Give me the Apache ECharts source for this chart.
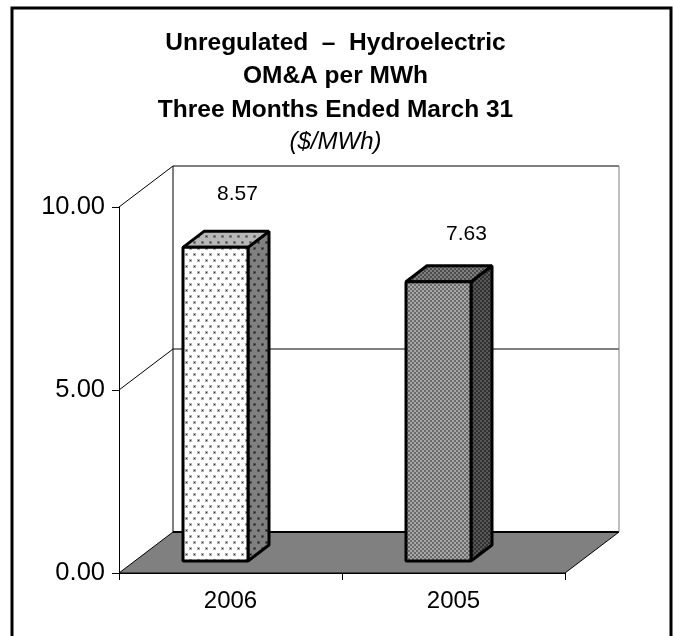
<!DOCTYPE html>
<html><head><meta charset="utf-8">
<style>html,body{margin:0;padding:0;background:#fff}#c{width:673px;height:636px}</style>
<script src="https://cdn.jsdelivr.net/npm/echarts@6/dist/echarts.min.js"></script>
</head><body><div id="c"></div>
<script>
const categories = ['2006', '2005'];
const values = [8.57, 7.63];
const wallTicks = [0, 5, 10];
const titleLines = 'Unregulated  \u2013  Hydroelectric\nOM&A per MWh\nThree Months Ended March 31';
const subtitle = '($/MWh)';

function tile(w, h, draw) {
  const c = document.createElement('canvas');
  c.width = w; c.height = h;
  draw(c.getContext('2d'));
  return { image: c, repeat: 'repeat' };
}
function dots(bg, halo, dot) {
  return tile(8, 12, g => {
    g.fillStyle = bg; g.fillRect(0, 0, 8, 12);
    [[1, 1], [5, 7]].forEach(([x, y]) => {
      g.fillStyle = halo; g.fillRect(x, y, 3, 3);
      g.fillStyle = dot; g.fillRect(x + 1, y + 1, 1, 1);
    });
  });
}
function check(a, b) {
  return tile(4, 4, g => {
    g.fillStyle = a; g.fillRect(0, 0, 4, 4);
    g.fillStyle = b;
    g.fillRect(0, 0, 2, 2); g.fillRect(2, 2, 2, 2);
  });
}
const faces = [
  { front: dots('#ffffff', '#b0b0b0', '#303030'), top: dots('#b8b8b8', '#808080', '#303030'), side: dots('#808080', '#555555', '#101010') },
  { front: check('#6a6a6a', '#a8a8a8'), top: check('#4c4c4c', '#808080'), side: check('#303030', '#585858') }
];
const DX = 54, DY = 41;
const ink = { stroke: '#000', fill: null, lineWidth: 1 };
const FONT = '"Liberation Sans", Arial, sans-serif';

const option = {
  animation: false,
  backgroundColor: '#fff',
  textStyle: { fontFamily: FONT },
  title: {
    text: titleLines, subtext: subtitle,
    left: 330.5, top: 21.25, textAlign: 'center', itemGap: 0,
    textStyle: { fontSize: 24.5, fontWeight: 'bold', color: '#000', lineHeight: 33.5, fontFamily: FONT },
    subtextStyle: { fontSize: 24, fontStyle: 'italic', color: '#000', lineHeight: 32, fontFamily: FONT }
  },
  grid: { left: 119, top: 207, width: 446, height: 366 },
  xAxis: {
    type: 'category', data: categories,
    axisLine: { show: true, lineStyle: { color: '#000', width: 1 } },
    axisTick: { show: true, length: 7, alignWithLabel: false, lineStyle: { color: '#000' } },
    axisLabel: { fontSize: 24, color: '#000', margin: 16, fontFamily: FONT }
  },
  yAxis: {
    type: 'value', min: 0, max: 10, interval: 5,
    splitLine: { show: false },
    axisLine: { show: true, lineStyle: { color: '#000', width: 1 } },
    axisTick: { show: true, length: 7, lineStyle: { color: '#000' } },
    axisLabel: { fontSize: 25.5, color: '#000', margin: 14, padding: [4, 0, 0, 0], formatter: v => v.toFixed(2), fontFamily: FONT }
  },
  graphic: [{
    type: 'rect', silent: true, z: 0,
    shape: { x: 12, y: 8, width: 659, height: 660 },
    style: { fill: null, stroke: '#000', lineWidth: 3 }
  }],
  series: [
    {
      type: 'custom', coordinateSystem: 'cartesian2d', silent: true, clip: false, z: 1,
      data: wallTicks.map(v => [0, v]),
      renderItem(params, api) {
        const cs = params.coordSys;
        const v = api.value(1);
        const y = api.coord([0, v])[1];
        const x0 = cs.x, x1 = cs.x + cs.width;
        const kids = [];
        if (v === 0) {
          kids.push({ type: 'polygon', shape: { points: [[x0, y], [x1, y], [x1 + DX, y - DY], [x0 + DX, y - DY]] },
            style: { fill: '#808080', stroke: '#000', lineWidth: 1 } });
          kids.push({ type: 'line', shape: { x1: x0 + DX, y1: y - DY, x2: x1 + DX, y2: y - DY }, style: { stroke: '#000', lineWidth: 2 } });
        } else {
          kids.push({ type: 'line', shape: { x1: x0, y1: y, x2: x0 + DX, y2: y - DY }, style: ink });
          kids.push({ type: 'line', shape: { x1: x0 + DX, y1: y - DY, x2: x1 + DX, y2: y - DY }, style: ink });
        }
        if (v === 10) {
          const b = api.coord([0, 0])[1] - DY;
          kids.push({ type: 'line', shape: { x1: x0 + DX, y1: y - DY, x2: x0 + DX, y2: b }, style: ink });
          kids.push({ type: 'line', shape: { x1: x1 + DX, y1: y - DY, x2: x1 + DX, y2: b }, style: { stroke: '#808080', lineWidth: 1 } });
        }
        return { type: 'group', children: kids };
      }
    },
    {
      type: 'custom', coordinateSystem: 'cartesian2d', silent: true, clip: false, z: 2,
      data: values.map((v, i) => [i, v]),
      renderItem(params, api) {
        const i = params.dataIndex;
        const p = api.coord([api.value(0), api.value(1)]);
        const base = api.coord([api.value(0), 0])[1] - 12;
        const f = faces[i];
        const l = p[0] - 47.5, r = l + 65, t = p[1] - 12;
        const dx = 21, dy = 16;
        const edge = { stroke: '#000', lineWidth: 3, lineJoin: 'bevel' };
        return { type: 'group', children: [
          { type: 'polygon', shape: { points: [[r, t], [r + dx, t - dy], [r + dx, base - dy], [r, base]] }, style: Object.assign({ fill: f.side }, edge) },
          { type: 'polygon', shape: { points: [[l, t], [l + dx, t - dy], [r + dx, t - dy], [r, t]] }, style: Object.assign({ fill: f.top }, edge) },
          { type: 'rect', shape: { x: l, y: t, width: r - l, height: base - t }, style: Object.assign({ fill: f.front }, edge) },
          { type: 'text', style: { x: p[0] + (i === 0 ? 7 : 13), y: p[1] - (i === 0 ? 65 : 60), text: api.value(1).toFixed(2),
              fill: '#000', font: '21px ' + FONT, align: 'center', verticalAlign: 'middle' } }
        ] };
      }
    }
  ]
};
const chart = echarts.init(document.getElementById('c'), null, { renderer: 'canvas' });
chart.setOption(option);
</script></body></html>
